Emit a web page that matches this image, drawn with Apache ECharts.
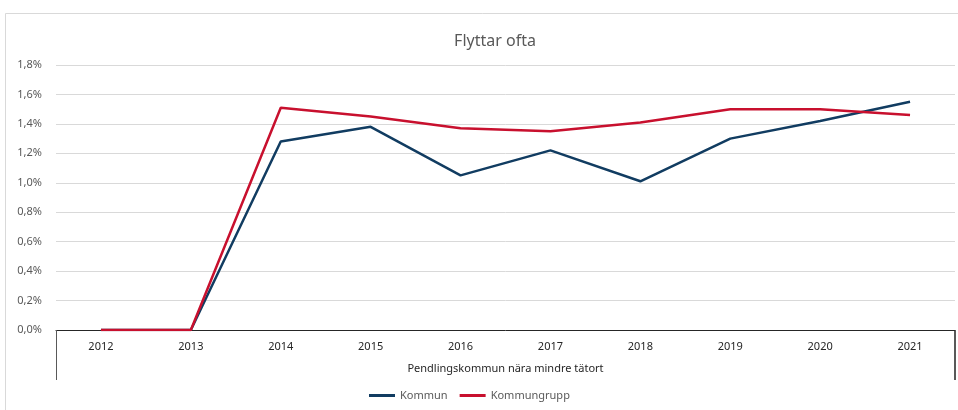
<!DOCTYPE html>
<html>
<head>
<meta charset="utf-8">
<script src="https://cdn.jsdelivr.net/npm/echarts@6/dist/echarts.min.js"></script>
<style>
  html, body { margin: 0; padding: 0; background: #fff; }
  #chart { width: 958px; height: 410px; }
</style>
</head>
<body>
<div id="chart"></div>
<script>
// Data (percent)
const years = ['2012', '2013', '2014', '2015', '2016', '2017', '2018', '2019', '2020', '2021'];
const groupLabel = ['Pendlingskommun nära mindre tätort'];
const kommun = [0, 0, 1.28, 1.38, 1.05, 1.22, 1.01, 1.30, 1.42, 1.55];
const kommungrupp = [0, 0, 1.51, 1.45, 1.37, 1.35, 1.41, 1.50, 1.50, 1.46];

const textColor = '#595959';
const font = 'Noto Sans';

const chart = echarts.init(document.getElementById('chart'), null, { renderer: 'canvas' });

chart.setOption({
  backgroundColor: '#fff',
  animation: false,
  textStyle: { fontFamily: font },
  graphic: [
    {
      type: 'rect',
      shape: { x: 5.5, y: 13.5, width: 1000, height: 500 },
      style: { fill: 'none', stroke: '#d9d9d9', lineWidth: 1 },
      silent: true
    },
    // right edge of the group label box
    {
      type: 'line',
      shape: { x1: 954.5, y1: 330, x2: 954.5, y2: 380 },
      style: { stroke: '#595959', lineWidth: 1 },
      silent: true
    }
  ],
  title: {
    text: 'Flyttar ofta',
    left: 490,
    top: 28,
    textAlign: 'center',
    textStyle: { fontFamily: font, fontSize: 16, fontWeight: 'normal', color: textColor }
  },
  legend: {
    bottom: 4,
    left: 364,
    itemWidth: 26,
    itemHeight: 3,
    itemGap: 12,
    icon: 'rect',
    textStyle: { fontFamily: font, fontSize: 11, color: textColor },
    data: ['Kommun', 'Kommungrupp']
  },
  grid: { left: 56, right: 3, top: 65, bottom: 80 },
  xAxis: [
    {
      type: 'category',
      data: years,
      boundaryGap: true,
      axisLine: { lineStyle: { color: '#262626', width: 1 } },
      axisTick: { show: false },
      axisLabel: { color: '#262626', fontSize: 11, margin: 11 }
    },
    {
      type: 'category',
      data: groupLabel,
      position: 'bottom',
      boundaryGap: true,
      axisLine: { show: false },
      axisTick: { show: true, interval: 0, length: 50, lineStyle: { color: '#595959', width: 1 } },
      axisLabel: { color: '#262626', fontSize: 11, margin: 33 }
    }
  ],
  yAxis: {
    type: 'value',
    min: 0,
    max: 1.8,
    interval: 0.2,
    axisLine: { show: false },
    axisTick: { show: false },
    axisLabel: {
      color: textColor,
      fontSize: 11,
      margin: 14,
      formatter: v => v.toFixed(1).replace('.', ',') + '%'
    },
    splitLine: { lineStyle: { color: '#d9d9d9', width: 1 } }
  },
  series: [
    {
      name: 'Kommun',
      type: 'line',
      data: kommun,
      symbol: 'none',
      itemStyle: { color: '#113c61' },
      lineStyle: { color: '#113c61', width: 2.5 }
    },
    {
      name: 'Kommungrupp',
      type: 'line',
      data: kommungrupp,
      symbol: 'none',
      itemStyle: { color: '#c8102e' },
      lineStyle: { color: '#c8102e', width: 2.5 }
    }
  ]
});

window.addEventListener('resize', () => chart.resize());
</script>
</body>
</html>
